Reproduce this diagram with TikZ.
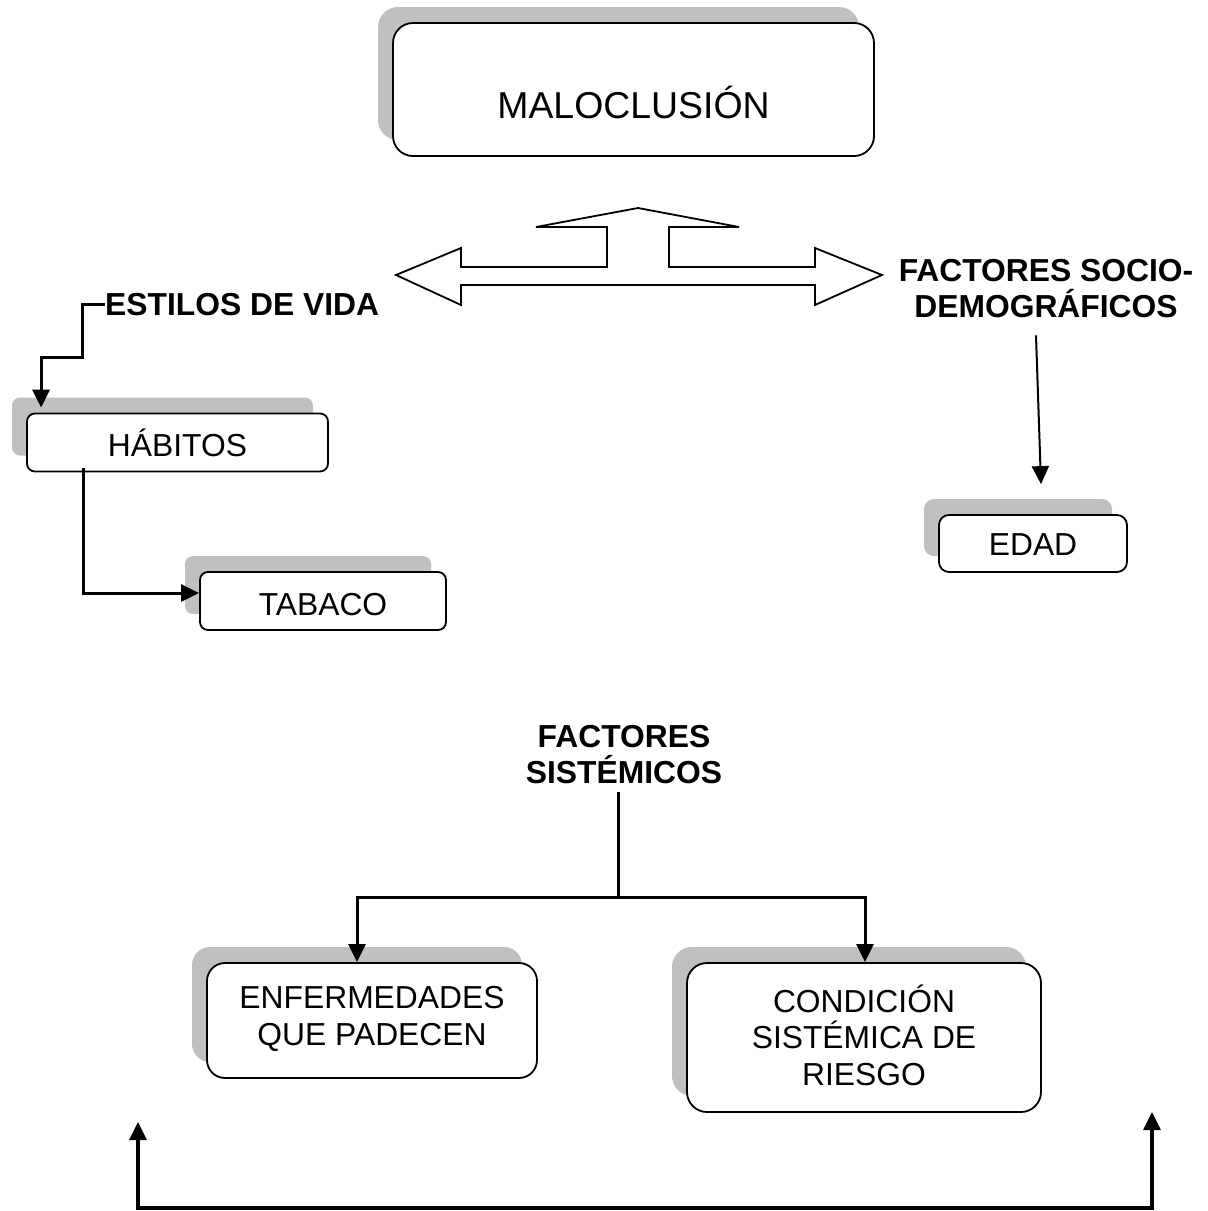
\documentclass[tikz,border=0pt]{standalone}
\usepackage{fontspec}
\setmainfont{Liberation Sans}
\usetikzlibrary{arrows.meta,shadows,calc}
\definecolor{shadowgray}{HTML}{C0C0C0}
\begin{document}
\begin{tikzpicture}[x=1pt,y=-1pt,
  box/.style={draw, line width=1.8pt, fill=white, rounded corners=#1, inner sep=0pt,
    font=\fontsize{31.8}{36.5}\selectfont, align=center,
    general shadow={fill=shadowgray, shadow xshift=-15pt, shadow yshift=16pt}},
  box/.default=20pt,
  btxt/.style={font=\bfseries\fontsize{31.8}{36}\selectfont, align=center, inner sep=0pt},
  tip/.style={-{Triangle[length=18pt,width=17pt]}},
  conn/.style={line width=3pt, tip},
  thinconn/.style={line width=2pt, tip},
  bigarrow/.style={line width=1.8pt, line join=miter}]
\useasboundingbox (0,0) rectangle (1208,1211);

% boxes
\node[box=20pt, minimum width=481pt, minimum height=133pt, text height=57pt, text depth=0pt,
  font=\fontsize{37.4}{42}\selectfont] (mal) at (633.5,89.5) {MALOCLUSIÓN};
\node[box=8pt, minimum width=301pt, minimum height=58pt, text height=27pt, text depth=0pt] (hab) at (177.5,442.5) {HÁBITOS};
\node[box=8pt, minimum width=246pt, minimum height=58pt, text height=28pt, text depth=0pt] (tab) at (323,601) {TABACO};
\node[box=10pt, minimum width=188pt, minimum height=57pt, text height=23pt, text depth=0pt] (edad) at (1033,543.5) {EDAD};
\node[box=18pt, minimum width=330pt, minimum height=115pt, text depth=9pt] (enf) at (372,1020.5) {ENFERMEDADES\\QUE PADECEN};
\node[box=20pt, minimum width=354pt, minimum height=149pt, text depth=5pt] (cond) at (864,1037.5) {CONDICIÓN\\SISTÉMICA DE\\RIESGO};

% bold labels
\node[btxt, anchor=base west] (est) at (105,315) {ESTILOS DE VIDA};
\node[btxt] (socio) at (1046,289) {FACTORES SOCIO-\\DEMOGRÁFICOS};
\node[btxt] (sis) at (624,755) {FACTORES\\SISTÉMICOS};

% big three-way block arrow
\draw[bigarrow] (396,275) -- (461,248) -- (461,267) -- (607,267) -- (607,227) -- (536,227)
  -- (638,208) -- (739,227) -- (669,227) -- (669,267) -- (815,267) -- (815,248)
  -- (882,275) -- (815,305) -- (815,285) -- (461,285) -- (461,305) -- cycle;

% connectors
\draw[conn] (est.west) -| (82,357) -| ($(hab.north west)+(15,-5)$);
\draw[conn] ($(hab.south west)+(57,-4)$) |- ($(tab.west)+(0,-8)$);
\draw[thinconn] ($(socio.south)+(-10,17)$) -- ($(edad.north)+(8,-30)$);

\coordinate (j) at (618,897);
\draw[line width=3pt] ($(sis.south)+(-6,8)$) -- (j);
\draw[conn] (j) -| ($(enf.north)+(-15,0)$);
\draw[conn] (j) -| ($(cond.north)+(1,0)$);

\coordinate (bl) at (138,1122);
\coordinate (br) at (1152,1112);
\draw[line width=3.2pt, {Triangle[length=18pt,width=17pt]}-{Triangle[length=18pt,width=17pt]}]
  (bl) -- (138,1208) -- (1152,1208) -- (br);
\end{tikzpicture}
\end{document}
